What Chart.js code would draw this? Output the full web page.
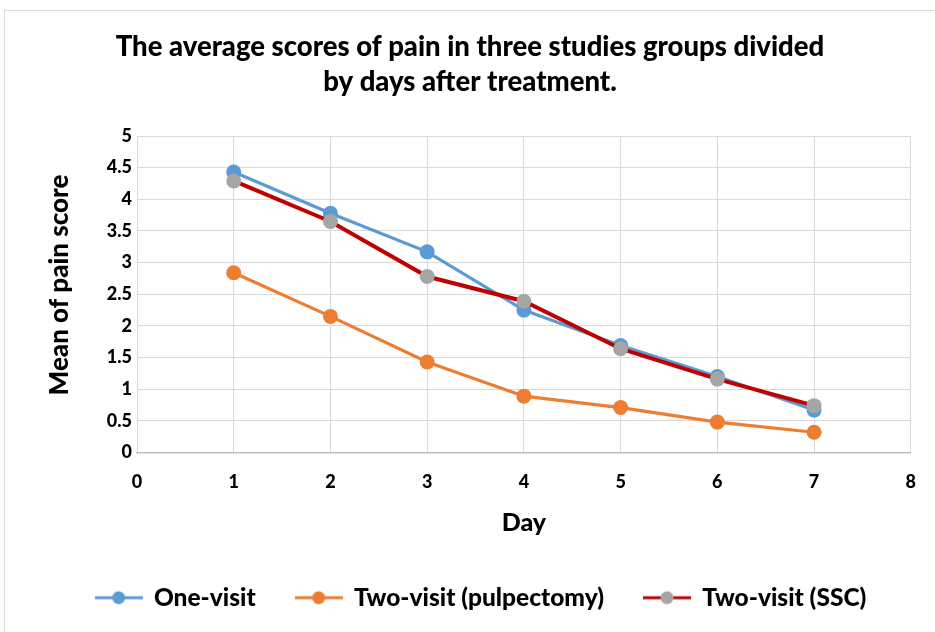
<!DOCTYPE html>
<html>
<head>
<meta charset="utf-8">
<script src="https://cdn.jsdelivr.net/npm/chart.js@4.4.1/dist/chart.umd.min.js"></script>
<style>
  html, body { margin: 0; padding: 0; background: #fff; }
  #frame { position: absolute; left: 4px; top: 10px; width: 1000px; height: 1000px; border: 1px solid #d9d9d9; }
  #chart { position: absolute; left: 0; top: 0; }
</style>
</head>
<body>
<div id="frame"></div>
<canvas id="chart" width="935" height="632"></canvas>
<script>
  // values
  var days = [1, 2, 3, 4, 5, 6, 7];
  var oneVisit = [4.43, 3.78, 3.17, 2.25, 1.69, 1.2, 0.67];
  var pulpectomy = [2.84, 2.15, 1.43, 0.89, 0.71, 0.48, 0.32];
  var ssc = [4.29, 3.65, 2.78, 2.39, 1.64, 1.16, 0.74];

  var seriesNames = ["One-visit", "Two-visit (pulpectomy)", "Two-visit (SSC)"];
  var titleLines = [
    "The average scores of pain in three studies groups divided",
    "by days after treatment."
  ];
  var yTitle = "Mean of pain score";

  var FONT = "Lato, 'Open Sans', sans-serif";
  var W = 900;

  function points(values) {
    return values.map(function (v, i) {
      return { x: days[i], y: v };
    });
  }

  // legend icon: short line with a dot in the middle, like the Excel legend
  function legendIcon(lineColor, dotColor) {
    var c = document.createElement("canvas");
    c.width = 48;
    c.height = 16;
    var g = c.getContext("2d");
    g.strokeStyle = lineColor;
    g.lineWidth = 3;
    g.beginPath();
    g.moveTo(0, 8);
    g.lineTo(48, 8);
    g.stroke();
    g.fillStyle = dotColor;
    g.beginPath();
    g.arc(24, 8, 6.5, 0, Math.PI * 2);
    g.fill();
    return c;
  }

  function series(label, values, line, dot, width, order) {
    return {
      label: label,
      data: points(values),
      borderColor: line,
      backgroundColor: dot,
      pointBackgroundColor: dot,
      pointBorderColor: dot,
      pointBorderWidth: 0,
      pointRadius: 7.5,
      pointHoverRadius: 7.5,
      pointStyle: "circle",
      borderWidth: width,
      tension: 0,
      order: order,
      icon: legendIcon(line, dot)
    };
  }

  var datasets = [
    series(seriesNames[0], oneVisit, "#5B9BD5", "#5B9BD5", 3.2, 2),
    series(seriesNames[1], pulpectomy, "#ED7D31", "#ED7D31", 3.2, 1),
    series(seriesNames[2], ssc, "#C00000", "#A5A5A5", 4, 0)
  ];

  // nudge the legend a bit to the right, as in the reference
  var legendShift = {
    id: "legendShift",
    afterLayout: function (chart) {
      if (!chart.legend) return;
      chart.legend.left += 11;
      chart.legend.right += 11;
    }
  };

  // rotated y axis title, placed like the Excel one
  var yTitlePlugin = {
    id: "yTitle",
    afterDraw: function (chart) {
      var ctx = chart.ctx;
      ctx.save();
      ctx.translate(60, 285);
      ctx.rotate(-Math.PI / 2);
      ctx.textAlign = "center";
      ctx.textBaseline = "middle";
      ctx.fillStyle = "#000";
      ctx.font = W + " 26px " + FONT;
      ctx.fillText(yTitle, 0, 0);
      ctx.restore();
    }
  };

  new Chart(document.getElementById("chart").getContext("2d"), {
    type: "line",
    data: { datasets: datasets },
    plugins: [legendShift, yTitlePlugin],
    options: {
      responsive: false,
      animation: false,
      layout: { padding: { left: 26, right: 21, top: 0, bottom: 12 } },
      plugins: {
        tooltip: { enabled: false },
        title: {
          display: true,
          text: titleLines,
          color: "#000",
          font: { family: FONT, size: 27.5, weight: W, lineHeight: 35 / 27.5 },
          padding: { top: 29.5, bottom: 36.5 }
        },
        legend: {
          position: "bottom",
          sort: function (a, b) {
            return a.datasetIndex - b.datasetIndex;
          },
          labels: {
            usePointStyle: true,
            pointStyleWidth: 46,
            boxHeight: 16,
            padding: 40,
            color: "#000",
            font: { family: FONT, size: 24.5, weight: W },
            generateLabels: function (chart) {
              return chart.data.datasets.map(function (ds, i) {
                return {
                  text: ds.label,
                  pointStyle: ds.icon,
                  datasetIndex: i,
                  fillStyle: ds.backgroundColor,
                  strokeStyle: ds.borderColor,
                  lineWidth: 0,
                  hidden: false
                };
              });
            }
          }
        }
      },
      scales: {
        x: {
          type: "linear",
          min: 0,
          max: 8,
          afterFit: function (s) {
            s.height = 93;
          },
          ticks: {
            stepSize: 1,
            padding: 19,
            color: "#000",
            font: { family: FONT, size: 18, weight: W }
          },
          grid: { color: "#d9d9d9", lineWidth: 1, drawTicks: false },
          border: { color: "#bfbfbf", width: 1.5 },
          title: {
            display: true,
            text: "Day",
            color: "#000",
            font: { family: FONT, size: 25, weight: W },
            padding: { top: 0, bottom: 8 }
          }
        },
        y: {
          min: 0,
          max: 5,
          afterFit: function (s) {
            s.width = 111;
          },
          ticks: {
            stepSize: 0.5,
            padding: 5,
            color: "#000",
            font: { family: FONT, size: 18, weight: W },
            callback: function (v) {
              return String(+v.toFixed(1));
            }
          },
          grid: { color: "#d9d9d9", lineWidth: 1, drawTicks: false },
          border: { display: false },
          title: { display: false }
        }
      }
    }
  });
</script>
</body>
</html>
